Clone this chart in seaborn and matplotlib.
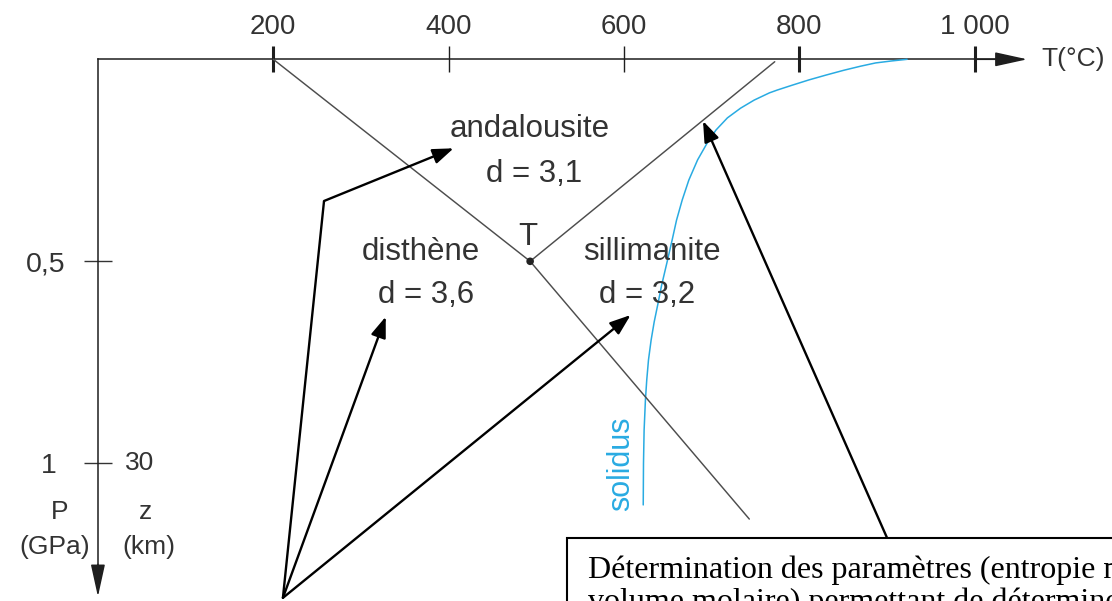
import matplotlib
matplotlib.use("Agg")
import matplotlib.pyplot as plt
from matplotlib.patches import Rectangle
import seaborn as sns

# Temperature (°C) and pressure (GPa) graduations
t_ticks = [200, 400, 600, 800, 1000]
t_tick_labels = ["200", "400", "600", "800", "1 000"]
p_ticks = [0.5, 1.0]
p_tick_labels = ["0,5", "1"]
depth_label = "30"

# Triple point of the Al2SiO5 polymorphs
triple_T = 493
triple_P = 0.5

# Reaction boundaries (T in °C, P in GPa)
ky_and_T = [200, triple_T]
ky_and_P = [0.0, triple_P]
and_sil_T = [triple_T, 772]
and_sil_P = [triple_P, 0.006]
ky_sil_T = [triple_T, 743]
ky_sil_P = [triple_P, 1.138]

# Granite solidus
solidus_T = [923, 905.5, 887, 870, 851, 830.5, 811, 792, 775, 766, 748.5,
             733, 718, 705, 695, 684, 674, 666.5, 660, 655, 649.5, 643,
             638.5, 634.5, 631, 628, 626, 624.5, 623, 622.3, 622]
solidus_P = [0.0, 0.004, 0.009, 0.017, 0.027, 0.039, 0.051, 0.064, 0.076,
             0.083, 0.101, 0.121, 0.145, 0.175, 0.207, 0.249, 0.299, 0.348,
             0.398, 0.447, 0.499, 0.559, 0.608, 0.650, 0.695, 0.744, 0.794,
             0.843, 0.918, 1.0, 1.103]

# Polymorphs and their densities
phases = ["andalousite", "disthène", "sillimanite"]
densities = [3.1, 3.6, 3.2]

GREY_TXT = "#333333"
AXIS_C = "#1e1e1e"
LINE_C = "#4d4d4d"
BLUE = "#29abe2"

sns.set_theme(style="white")
plt.rcParams["font.family"] = ["Liberation Sans", "DejaVu Sans"]

fig = plt.figure(figsize=(11.12, 6.01), dpi=100)
ax = fig.add_axes([0, 0, 1, 1])
ax.set_facecolor("white")

# Phase boundaries and solidus
for xs, ys in [(ky_and_T, ky_and_P), (and_sil_T, and_sil_P), (ky_sil_T, ky_sil_P)]:
    sns.lineplot(x=xs, y=ys, ax=ax, color=LINE_C, lw=1.05, sort=False,
                 estimator=None, zorder=3)
sns.lineplot(x=solidus_T, y=solidus_P, ax=ax, color=BLUE, lw=1.1, sort=False,
             estimator=None, zorder=2.6)
sns.scatterplot(x=[triple_T], y=[triple_P], ax=ax, color="#222222", s=30,
                edgecolor="none", zorder=4)

ax.set_xlim(-111.7, 1156.7)
ax.set_ylim(1.3408, -0.1468)
ax.set_xlabel("")
ax.set_ylabel("")

# Axes drawn as arrows from the origin
for s in ["bottom", "right"]:
    ax.spines[s].set_visible(False)
for s in ["top", "left"]:
    ax.spines[s].set_visible(True)
    ax.spines[s].set_color(AXIS_C)
    ax.spines[s].set_linewidth(1.1)
    ax.spines[s].set_position(("data", 0))
ax.spines["top"].set_bounds(0, 1035)
ax.spines["left"].set_bounds(0, 1.30)

ax.xaxis.set_ticks_position("top")
ax.xaxis.set_label_position("top")
ax.set_xticks(t_ticks, t_tick_labels)
ax.tick_params(axis="x", direction="inout", length=18.7, width=1.0,
               pad=4.5, labelsize=20, color=AXIS_C, labelcolor=GREY_TXT)
for i in (0, 3, 4):
    ax.xaxis.get_major_ticks()[i].tick2line.set_markeredgewidth(2.2)

ax.yaxis.set_ticks_position("left")
ax.set_yticks(p_ticks, p_tick_labels)
ax.tick_params(axis="y", direction="inout", length=20, width=1.0,
               pad=13, labelsize=20.5, color="#333333", labelcolor=GREY_TXT)
ax.yaxis.get_major_ticks()[1].set_pad(20)
ax.grid(False)

head = "-|>,head_length=1.0,head_width=0.22"
ax.annotate("", xy=(1060, 0), xytext=(1000, 0),
            arrowprops=dict(arrowstyle=head, mutation_scale=20, color=AXIS_C,
                            lw=1.1, shrinkA=0, shrinkB=0))
ax.annotate("", xy=(0, 1.330), xytext=(0, 1.25),
            arrowprops=dict(arrowstyle=head, mutation_scale=20, color=AXIS_C,
                            lw=1.1, shrinkA=0, shrinkB=0))

ax.text(1112, 0.0, "T(°C)", fontsize=19, color=GREY_TXT, ha="center", va="center")
ax.text(31, 1.0, depth_label, fontsize=19, color=GREY_TXT, ha="left", va="center")
ax.text(-44, 1.12, "P", fontsize=19, color=GREY_TXT, ha="center", va="center")
ax.text(-49, 1.206, "(GPa)", fontsize=19, color=GREY_TXT, ha="center", va="center")
ax.text(54, 1.12, "z", fontsize=19, color=GREY_TXT, ha="center", va="center")
ax.text(58, 1.206, "(km)", fontsize=19, color=GREY_TXT, ha="center", va="center")

# Phase names and densities
name_pos = [(493, 0.192), (368.5, 0.497), (631.7, 0.497)]
dens_pos = [(497.5, 0.304), (374, 0.6025), (626, 0.6025)]
for name, d, (nx, ny), (dx, dy) in zip(phases, densities, name_pos, dens_pos):
    ax.text(nx, ny, name, fontsize=22.5, color=GREY_TXT, ha="center", va="baseline")
    ax.text(dx, dy, "d = " + f"{d:.1f}".replace(".", ","), fontsize=22.5,
            color=GREY_TXT, ha="center", va="baseline")
ax.text(490.6, 0.4597, "T", fontsize=22.5, color=GREY_TXT, ha="center", va="baseline")
ax.text(597, 1.002, "solidus", fontsize=22, color=BLUE, rotation=90,
        ha="center", va="center")

# Pointer arrows towards the three stability fields
arrow_kw = dict(arrowstyle="-|>,head_length=0.9,head_width=0.33",
                mutation_scale=14, color="black", lw=1.7, shrinkA=0, shrinkB=0)
src = (211, 1.333)
bend = (257.9, 0.3507)
ax.plot([src[0], bend[0]], [src[1], bend[1]], color="black", lw=1.7,
        solid_capstyle="butt", zorder=5)
ax.annotate("", xy=(405.7, 0.2203), xytext=bend, arrowprops=arrow_kw, zorder=5)
ax.annotate("", xy=(328.3, 0.637), xytext=src, arrowprops=arrow_kw, zorder=5)
ax.annotate("", xy=(607.6, 0.633), xytext=src, arrowprops=arrow_kw, zorder=5)

# Caption box pointing at the andalousite/sillimanite boundary
ax.annotate("", xy=(690.2, 0.1527), xytext=(900, 1.184), arrowprops=arrow_kw, zorder=5)
ax.add_patch(Rectangle((535.1, 1.184), 900, 0.6, fill=True, facecolor="white",
                       edgecolor="black", lw=1.5, zorder=6))
serif = ["Liberation Serif", "DejaVu Serif"]
ax.text(559, 1.2827, "Détermination des paramètres (entropie molaire,",
        family=serif, fontsize=23, color="black", ha="left", va="baseline", zorder=7)
ax.text(559, 1.362, "volume molaire) permettant de déterminer",
        family=serif, fontsize=23, color="black", ha="left", va="baseline", zorder=7)

fig.savefig("out.png", dpi=100)
